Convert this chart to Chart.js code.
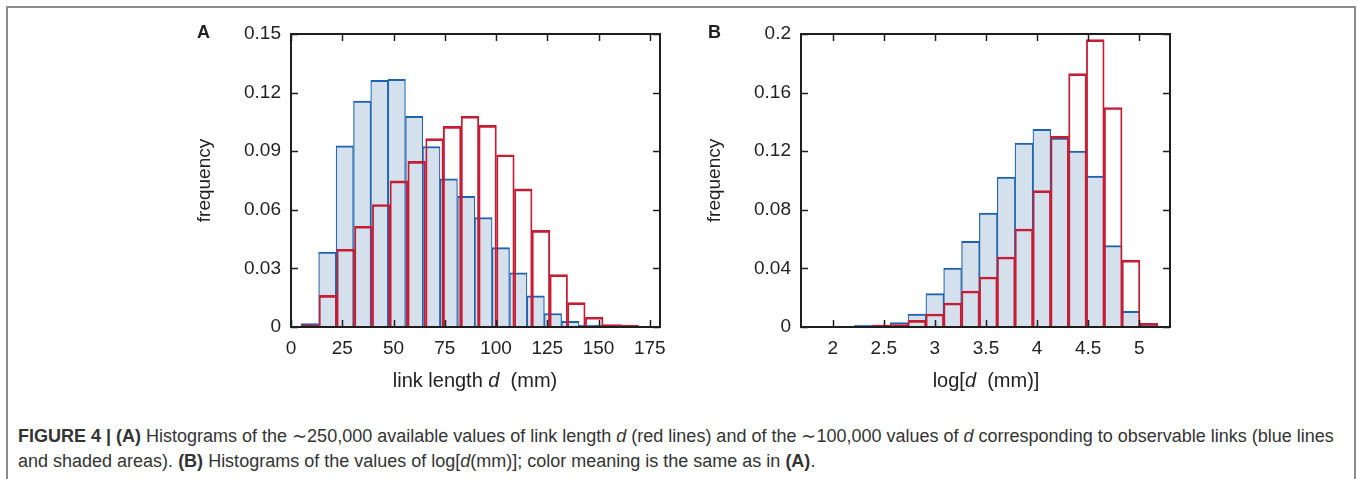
<!DOCTYPE html>
<html>
<head>
<meta charset="utf-8">
<title>Figure 4 - link length histograms</title>
<script src="https://cdn.jsdelivr.net/npm/chart.js@4.4.1/dist/chart.umd.min.js"></script>
<style>
  html, body { margin: 0; padding: 0; background: #fff; }
  body { width: 1358px; height: 479px; position: relative; overflow: hidden;
         font-family: "Liberation Sans", Arial, sans-serif; color: #222; }
  .frame { position: absolute; left: 6px; top: 6px; width: 1346px; height: 520px;
           border: 2px solid #8c8c8c; border-bottom: none; }
  canvas { position: absolute; top: 0; }
  .panel { position: absolute; top: 22px; font-weight: bold; font-size: 18px; line-height: 20px; }
  .xtitle { position: absolute; top: 369px; font-size: 20px; line-height: 23px;
            transform: translateX(-50%); white-space: nowrap; color: #222; }
  .caption { position: absolute; left: 18px; top: 424px; font-size: 18px; line-height: 25px;
             color: #333; white-space: nowrap; }
</style>
</head>
<body>
<div class="frame"></div>

<canvas id="chartA" width="500" height="380" style="left:180px"></canvas>
<canvas id="chartB" width="500" height="380" style="left:690px"></canvas>

<div class="panel" style="left:197px">A</div>
<div class="panel" style="left:708px">B</div>
<div class="xtitle" style="left:475px">link length <i>d</i>&nbsp; (mm)</div>
<div class="xtitle" style="left:986px">log[<i>d</i>&nbsp; (mm)]</div>

<div class="caption">
  <b>FIGURE 4 | (A)</b> Histograms of the ∼250,000 available values of link length <i>d</i> (red lines) and of the ∼100,000 values of <i>d</i> corresponding to observable links (blue lines<br>
  and shaded areas). <b>(B)</b> Histograms of the values of log[<i>d</i>(mm)]; color meaning is the same as in <b>(A)</b>.
</div>

<script>
// ---- Panel A: link length d (mm) ----
// bin centres differ a little: all links span a wider range than observable ones
const lengthBinsAll = [9.3, 18.0, 26.7, 35.3, 44.0, 52.6, 61.3, 70.0, 78.6, 87.3,
                       95.9, 104.6, 113.3, 121.9, 130.6, 139.2, 147.9, 156.6, 165.2];
const lengthBinsObs = [9.2, 17.7, 26.2, 34.7, 43.1, 51.6, 60.1, 68.5, 77.0, 85.5,
                       93.9, 102.4, 110.9, 119.4, 127.8, 136.3, 144.8, 153.2, 161.7];
const lengthFreqAll = [0.0008, 0.0162, 0.0398, 0.0516, 0.0627, 0.0748, 0.0848, 0.0964, 0.1027, 0.1079,
                       0.1032, 0.0882, 0.0707, 0.0495, 0.0268, 0.0125, 0.0050, 0.0012, 0.0003];
const lengthFreqObs = [0.0017, 0.0384, 0.0927, 0.1157, 0.1263, 0.1268, 0.1079, 0.0924, 0.0758, 0.0669,
                       0.0560, 0.0406, 0.0277, 0.0159, 0.0069, 0.0029, 0.0010, 0.0005, null];
const lengthTicks = [0, 25, 50, 75, 100, 125, 150, 175];
const lengthFreqTicks = [0, 0.03, 0.06, 0.09, 0.12, 0.15];

// ---- Panel B: log[d (mm)] ----
const logBins = [1.777, 1.952, 2.126, 2.301, 2.475, 2.650, 2.824, 2.999, 3.173, 3.348,
                 3.522, 3.697, 3.871, 4.046, 4.220, 4.395, 4.569, 4.744, 4.918, 5.093];
const logFreqAll = [null, null, null, null, 0.0006, 0.0017, 0.0045, 0.0089, 0.0164, 0.0246,
                    0.0341, 0.0478, 0.0669, 0.0931, 0.1302, 0.1730, 0.1962, 0.1498, 0.0457, 0.0025];
const logFreqObs = [null, null, null, 0.0004, 0.0010, 0.0030, 0.0088, 0.0228, 0.0403, 0.0585,
                    0.0778, 0.1024, 0.1256, 0.1350, 0.1290, 0.1201, 0.1031, 0.0556, 0.0107, 0.0014];
const logTicks = [2, 2.5, 3, 3.5, 4, 4.5, 5];
const logFreqTicks = [0, 0.04, 0.08, 0.12, 0.16, 0.2];

const RED = '#c61d35';
const BLUE = '#1f63ae';
const BLUE_FILL = '#d4e0ec';
const TEXT = '#222';
const FONT = "'Liberation Sans', Arial, sans-serif";

const fmt = v => String(+Number(v).toFixed(4));

// gnuplot-like box: closed frame with inward ticks on all four sides
const frameTicks = {
    id: 'frameTicks',
    afterDatasetsDraw(chart) {
        const { ctx, chartArea: a, scales } = chart;
        const len = 7;
        ctx.save();
        ctx.strokeStyle = '#1e1e1e';
        ctx.lineWidth = 1.5;
        ctx.beginPath();
        scales.x.ticks.forEach(t => {
            const px = Math.round(scales.x.getPixelForValue(t.value)) + 0.5;
            ctx.moveTo(px, a.bottom); ctx.lineTo(px, a.bottom - len);
            ctx.moveTo(px, a.top); ctx.lineTo(px, a.top + len);
        });
        scales.y.ticks.forEach(t => {
            const py = Math.round(scales.y.getPixelForValue(t.value)) + 0.5;
            ctx.moveTo(a.left, py); ctx.lineTo(a.left + len, py);
            ctx.moveTo(a.right, py); ctx.lineTo(a.right - len, py);
        });
        ctx.stroke();
        ctx.lineWidth = 2;
        ctx.strokeRect(a.left, a.top, a.right - a.left, a.bottom - a.top);
        ctx.restore();
    }
};

function histogramChart(canvasId, binsAll, freqAll, binsObs, freqObs, xRange, xTicks, yMax, yTicks) {
    const setTicks = values => scale => { scale.ticks = values.map(v => ({ value: v })); };
    const barStyle = {
        borderWidth: { top: 2, left: 1.2, right: 1.2, bottom: 0 },
        barPercentage: 1,
        categoryPercentage: 1,
        grouped: false,
        minBarLength: 2
    };
    const hiddenX = {
        type: 'linear', display: false, offset: false,
        min: xRange[0], max: xRange[1],
        afterBuildTicks: setTicks(xTicks)
    };

    return new Chart(document.getElementById(canvasId), {
        type: 'bar',
        data: {
            datasets: [
                // red drawn on top of the shaded blue one
                {
                    label: 'all links',
                    data: binsAll.map((x, i) => ({ x: x, y: freqAll[i] })),
                    xAxisID: 'xAll',
                    backgroundColor: 'rgba(0,0,0,0)',
                    borderColor: RED,
                    ...barStyle
                },
                {
                    label: 'observable links',
                    data: binsObs.map((x, i) => ({ x: x, y: freqObs[i] })),
                    xAxisID: 'x',
                    backgroundColor: BLUE_FILL,
                    borderColor: BLUE,
                    ...barStyle
                }
            ]
        },
        options: {
            responsive: false,
            animation: false,
            layout: { padding: { top: 34, right: 20, left: 0, bottom: 0 } },
            plugins: { legend: { display: false }, tooltip: { enabled: false } },
            scales: {
                x: {
                    type: 'linear', offset: false,
                    min: xRange[0], max: xRange[1],
                    afterBuildTicks: setTicks(xTicks),
                    afterFit: scale => { scale.height = 53; },
                    grid: { display: false, drawTicks: false },
                    border: { display: false },
                    ticks: {
                        color: TEXT, padding: 10, maxRotation: 0, autoSkip: false,
                        font: { family: FONT, size: 19 },
                        callback: v => fmt(v)
                    }
                },
                xAll: hiddenX,
                y: {
                    min: 0, max: yMax,
                    afterBuildTicks: setTicks(yTicks),
                    afterFit: scale => { scale.width = 111; },
                    grid: { display: false, drawTicks: false },
                    border: { display: false },
                    ticks: {
                        color: TEXT, padding: 10,
                        font: { family: FONT, size: 19 },
                        callback: v => fmt(v)
                    },
                    title: {
                        display: true, text: 'frequency', color: TEXT,
                        font: { family: FONT, size: 19 },
                        padding: { top: 13, bottom: 0 }
                    }
                }
            }
        },
        plugins: [frameTicks]
    });
}

histogramChart('chartA', lengthBinsAll, lengthFreqAll, lengthBinsObs, lengthFreqObs,
               [0, 180], lengthTicks, 0.15, lengthFreqTicks);
histogramChart('chartB', logBins, logFreqAll, logBins, logFreqObs,
               [1.69, 5.3], logTicks, 0.2, logFreqTicks);
</script>
</body>
</html>
